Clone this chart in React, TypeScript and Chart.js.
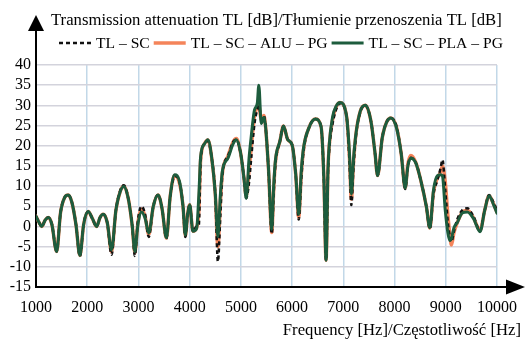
import React, { useEffect, useRef } from "react";
import { Chart, registerables } from "chart.js";

Chart.register(...registerables);

// ---- data (frequency in Hz, transmission attenuation in dB) ----
const FREQ = [
  1000, 1060, 1111, 1180, 1240, 1310, 1403, 1480, 1560, 1629, 1700, 1780, 1857, 1930, 2019, 2100,
  2182, 2250, 2311, 2390, 2475, 2560, 2640, 2714, 2800, 2880, 2929, 2990, 3059, 3130, 3201, 3290,
  3382, 3460, 3546, 3620, 3708, 3805, 3870, 3916, 3960, 4000, 4064, 4136, 4180, 4214, 4290, 4356,
  4430, 4500, 4551, 4600, 4637, 4750, 4850, 4910, 4990, 5060, 5104, 5160, 5202, 5266, 5320, 5350,
  5397, 5447, 5480, 5540, 5603, 5640, 5675, 5760, 5831, 5915, 6000, 6070, 6129, 6180, 6227, 6330,
  6454, 6565, 6620, 6663, 6700, 6727, 6791, 6860, 6935, 7064, 7120, 7156, 7200, 7247, 7330, 7428,
  7540, 7620, 7668, 7760, 7850, 7929, 8038, 8130, 8208, 8260, 8319, 8416, 8520, 8620, 8689, 8760,
  8837, 8900, 8935, 8990, 9040, 9080, 9110, 9160, 9226, 9320, 9421, 9540, 9669, 9760, 9844, 9930,
  10000,
];

const TL_PLA = [
  2.5, 1.0, 0.0, 1.6, 2.2, 0.5, -6.2, 3.5, 7.2, 7.8, 6.0, 0.5, -7.2, 0.5, 3.7, 2.0,
  0.0, 2.2, 3.0, 1.0, -5.8, 4.0, 8.5, 9.9, 7.0, 0.0, -6.2, 0.5, 3.6, 2.0, -1.6, 5.0,
  7.8, 4.5, -2.8, 7.5, 12.8, 11.0, 5.0, -2.1, 3.0, 5.4, -1.2, -0.5, 8.0, 17.3, 20.5, 21.5,
  17.0, 8.0, -2.5, 8.0, 13.6, 17.0, 20.5, 21.5, 18.5, 12.0, 7.0, 17.0, 22.3, 28.9, 30.5, 35.0,
  25.5, 27.0, 25.0, 14.0, -0.7, 10.0, 16.5, 21.0, 24.9, 21.5, 20.2, 13.0, 3.0, 14.0, 19.8, 24.5,
  26.6, 24.8, 12.0, -8.4, 14.0, 20.6, 27.2, 29.8, 30.7, 27.2, 18.0, 8.0, 17.0, 23.0, 28.5, 30.0,
  26.0, 18.0, 12.6, 22.0, 26.0, 26.9, 24.4, 18.0, 9.5, 15.0, 16.9, 15.7, 11.0, 5.0, -0.3, 9.0,
  12.6, 12.8, 12.5, 4.0, -1.5, -3.5, -3.0, -0.3, 1.0, 3.3, 3.6, 2.0, -1.3, 4.0, 7.6, 5.5,
  3.3,
];

const TL_ALU = [
  2.5, 1.0, 0.0, 1.6, 2.2, 0.5, -6.2, 3.5, 7.2, 7.8, 6.0, 0.5, -7.2, 0.5, 3.7, 2.0,
  0.0, 2.2, 3.0, 1.0, -6.3, 4.0, 8.5, 10.0, 7.0, 0.0, -6.5, 1.0, 4.3, 2.5, -2.0, 5.0,
  7.8, 4.5, -2.9, 7.5, 12.6, 10.5, 5.0, -2.3, 3.0, 5.4, -1.2, -0.3, 4.0, 16.5, 20.5, 21.4,
  17.0, 8.0, -5.0, 6.0, 13.0, 17.5, 21.0, 21.8, 18.5, 12.0, 7.5, 14.0, 19.5, 27.5, 29.5, 30.0,
  26.5, 27.5, 25.0, 14.0, -1.5, 9.0, 16.0, 21.0, 24.9, 21.5, 20.2, 13.0, 2.3, 13.0, 19.5, 24.5,
  26.6, 24.8, 12.0, -8.4, 14.0, 20.3, 26.5, 29.6, 30.7, 27.2, 17.0, 6.8, 16.0, 23.0, 28.5, 30.0,
  26.0, 18.0, 12.6, 22.0, 26.0, 26.9, 24.6, 18.0, 9.5, 15.5, 17.6, 15.8, 11.0, 5.0, -0.4, 8.5,
  12.0, 13.5, 15.0, 11.0, 3.0, -2.0, -4.6, -1.5, 1.0, 3.5, 4.0, 2.2, -1.0, 4.0, 7.6, 5.7,
  3.5,
];

const TL_SC = [
  2.5, 1.0, 0.0, 1.6, 2.2, 0.5, -6.2, 3.5, 7.2, 7.8, 6.0, 0.5, -7.4, 0.5, 3.7, 2.0,
  0.0, 2.2, 3.0, 1.0, -7.0, 4.0, 8.7, 10.2, 7.0, 0.0, -7.3, 1.5, 5.0, 3.0, -2.6, 5.0,
  7.8, 4.5, -3.0, 7.3, 12.5, 10.8, 5.0, -2.6, 3.0, 5.4, -1.2, 0.0, 0.5, 16.0, 20.5, 21.2,
  17.0, 8.0, -8.7, 3.0, 12.5, 17.5, 21.0, 21.5, 18.5, 12.0, 7.0, 11.0, 17.0, 25.5, 29.0, 30.0,
  27.0, 27.5, 25.0, 14.0, -1.8, 8.0, 15.5, 21.0, 24.9, 21.5, 20.2, 13.0, 1.7, 12.0, 19.0, 24.5,
  26.6, 24.8, 12.0, -8.4, 13.0, 19.5, 25.5, 29.0, 30.5, 27.2, 16.0, 5.3, 15.0, 22.5, 28.3, 30.0,
  26.0, 18.0, 12.6, 22.0, 26.0, 26.9, 24.8, 18.0, 9.3, 15.0, 17.0, 15.7, 11.0, 5.0, -0.6, 8.0,
  11.5, 14.5, 16.5, 9.0, 1.0, -2.5, -3.8, -1.2, 1.8, 4.0, 4.5, 2.5, -1.0, 4.0, 7.8, 6.0,
  4.0,
];

const X_TICKS = [1000, 2000, 3000, 4000, 5000, 6000, 7000, 8000, 9000, 10000];
const Y_MIN = -15;
const Y_MAX = 40;
const Y_STEP = 5;

const TITLE_Y = "Transmission attenuation TL [dB]/Tłumienie przenoszenia TL [dB]";
const TITLE_X = "Frequency [Hz]/Częstotliwość [Hz]";
const SERIES_NAMES = ["TL – SC", "TL – SC – ALU – PG", "TL – SC – PLA – PG"];

const FONT = "'Liberation Serif', 'Times New Roman', serif";
const COL_SC = "#111111";
const COL_ALU = "#f4845a";
const COL_PLA = "#1d5c3d";

const toPoints = (ys: number[]) => FREQ.map((f, i) => ({ x: f, y: ys[i] }));

const decorPlugin = {
  id: "decor",
  beforeDatasetsDraw(chart: any) {
    const { ctx, chartArea } = chart;
    const { left, right, bottom } = chartArea;
    ctx.save();
    ctx.strokeStyle = "#000";
    ctx.fillStyle = "#000";
    ctx.lineWidth = 2;
    // y axis with arrow
    ctx.beginPath();
    ctx.moveTo(left, bottom + 1);
    ctx.lineTo(left, 30);
    ctx.stroke();
    ctx.beginPath();
    ctx.moveTo(left, 15);
    ctx.lineTo(left - 8, 31);
    ctx.lineTo(left + 8, 31);
    ctx.closePath();
    ctx.fill();
    // x axis with arrow
    ctx.beginPath();
    ctx.moveTo(left - 1, bottom);
    ctx.lineTo(right + 10, bottom);
    ctx.stroke();
    ctx.beginPath();
    ctx.moveTo(525, bottom);
    ctx.lineTo(506, bottom - 7.5);
    ctx.lineTo(506, bottom + 7.5);
    ctx.closePath();
    ctx.fill();
    ctx.restore();
  },
  afterDraw(chart: any) {
    const { ctx } = chart;
    ctx.save();
    ctx.fillStyle = "#000";
    ctx.textBaseline = "alphabetic";
    // y title
    ctx.font = `16.7px ${FONT}`;
    ctx.textAlign = "left";
    ctx.fillText(TITLE_Y, 51, 25);
    // x title
    ctx.textAlign = "right";
    ctx.fillText(TITLE_X, 521, 335);
    // legend
    ctx.font = `15.6px ${FONT}`;
    const styles = [
      { color: COL_SC, width: 2.5, dash: [4, 3] },
      { color: COL_ALU, width: 3.5, dash: [] as number[] },
      { color: COL_PLA, width: 3, dash: [] as number[] },
    ];
    let x = 59;
    const y = 43;
    ctx.textAlign = "left";
    ctx.textBaseline = "middle";
    styles.forEach((s, i) => {
      ctx.strokeStyle = s.color;
      ctx.lineWidth = s.width;
      ctx.setLineDash(s.dash);
      ctx.beginPath();
      ctx.moveTo(x, y);
      ctx.lineTo(x + 32, y);
      ctx.stroke();
      ctx.setLineDash([]);
      x += 37;
      ctx.fillText(SERIES_NAMES[i], x, y + 1);
      x += ctx.measureText(SERIES_NAMES[i]).width + 4;
    });
    ctx.restore();
  },
};

export default function App() {
  const ref = useRef<HTMLCanvasElement | null>(null);

  useEffect(() => {
    if (!ref.current) return;
    const lineDefaults = {
      pointRadius: 0,
      fill: false,
      cubicInterpolationMode: "monotone" as const,
      borderCapStyle: "round" as const,
      borderJoinStyle: "round" as const,
    };
    const chart = new Chart(ref.current, {
      type: "line",
      data: {
        datasets: [
          {
            label: SERIES_NAMES[0],
            data: toPoints(TL_SC),
            borderColor: COL_SC,
            borderWidth: 2.5,
            borderDash: [4, 3],
            borderCapStyle: "butt",
            order: 1,
            pointRadius: 0,
            fill: false,
            cubicInterpolationMode: "monotone",
          } as any,
          {
            label: SERIES_NAMES[1],
            data: toPoints(TL_ALU),
            borderColor: COL_ALU,
            borderWidth: 3.5,
            order: 2,
            ...lineDefaults,
          },
          {
            label: SERIES_NAMES[2],
            data: toPoints(TL_PLA),
            borderColor: COL_PLA,
            borderWidth: 3,
            order: 0,
            ...lineDefaults,
          },
        ],
      },
      options: {
        animation: false,
        responsive: true,
        maintainAspectRatio: false,
        layout: { padding: { left: 0, right: 30, top: 65, bottom: 0 } },
        plugins: {
          legend: { display: false },
          title: { display: false },
          tooltip: { enabled: false },
        },
        scales: {
          x: {
            type: "linear",
            min: X_TICKS[0],
            max: X_TICKS[X_TICKS.length - 1],
            afterBuildTicks: (scale: any) => {
              scale.ticks = X_TICKS.map((v) => ({ value: v }));
            },
            afterFit: (scale: any) => {
              scale.height = 52;
            },
            border: { display: false },
            grid: {
              drawTicks: false,
              color: "#c2d8e8",
              lineWidth: 1.5,
            },
            ticks: {
              autoSkip: false,
              maxRotation: 0,
              padding: 11,
              color: "#000",
              font: { family: FONT, size: 16 },
              callback: (v: any) => String(v),
            },
          },
          y: {
            min: Y_MIN,
            max: Y_MAX,
            afterFit: (scale: any) => {
              scale.width = 36;
            },
            border: { display: false },
            grid: {
              drawTicks: false,
              color: "#d3d3dc",
              lineWidth: 1.5,
            },
            ticks: {
              stepSize: Y_STEP,
              autoSkip: false,
              padding: 5,
              color: "#000",
              font: { family: FONT, size: 16 },
            },
          },
        },
      },
      plugins: [decorPlugin],
    });
    return () => chart.destroy();
  }, []);

  return (
    <div style={{ position: "absolute", left: 0, top: 0, width: 528, height: 339, background: "#fff" }}>
      <canvas ref={ref} />
    </div>
  );
}
